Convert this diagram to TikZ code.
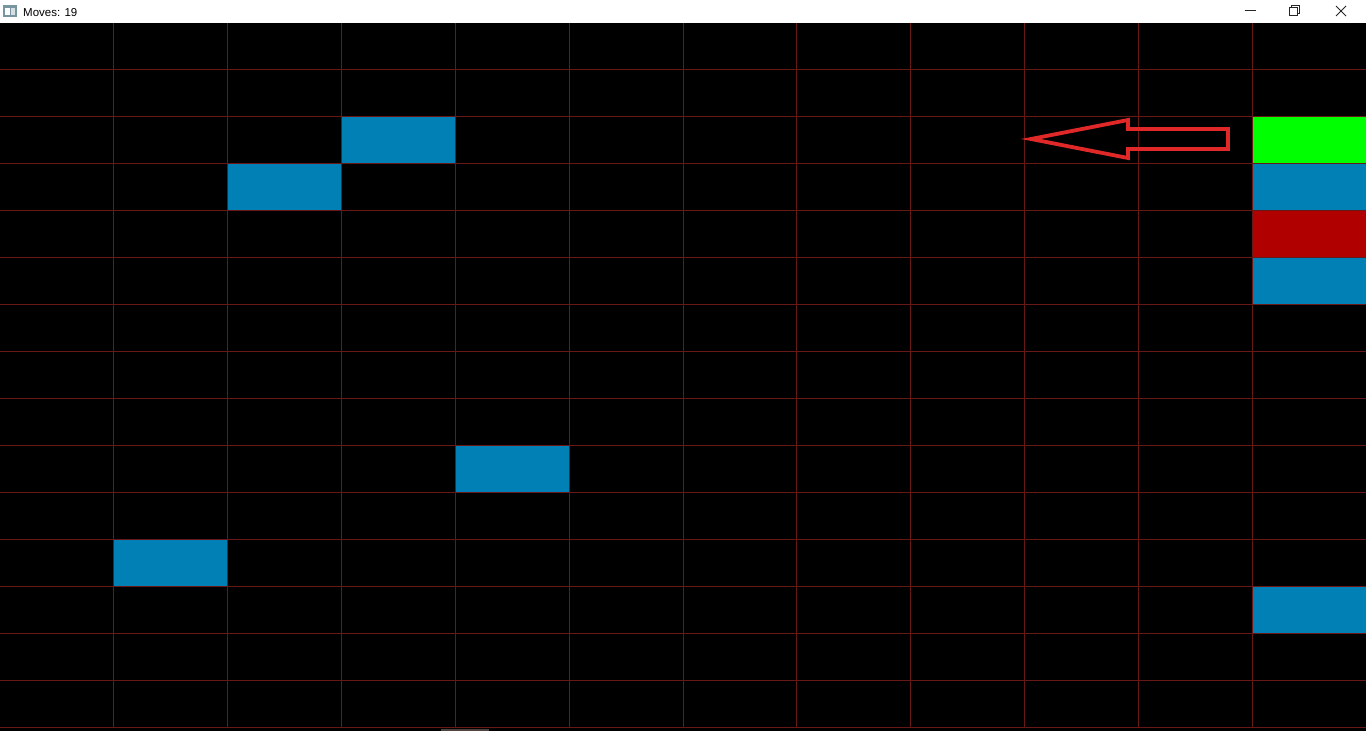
\documentclass[tikz,border=0pt]{standalone}
\usepackage{fontspec}
\setmainfont{Liberation Sans}
\definecolor{gridred}{RGB}{105,24,24}
\definecolor{cellblue}{RGB}{0,128,180}
\definecolor{cellgreen}{RGB}{0,255,0}
\definecolor{cellred}{RGB}{176,0,0}
\definecolor{arrowred}{RGB}{225,40,40}
\definecolor{iconblue}{RGB}{120,150,160}
\definecolor{barbrown}{RGB}{80,66,62}
\begin{document}
\begin{tikzpicture}[x=1pt,y=-1pt,
  gridline/.style={draw=gridred,line width=0.8pt},
  ctrl/.style={draw=black!85,line width=0.9pt}]
\useasboundingbox (0,0) rectangle (1366,731);
% title bar
\fill[white] (0,0) rectangle (1366,23);
% play field
\fill[black] (0,23) rectangle (1366,731);
% icon
\fill[iconblue] (3,5) rectangle (17,17);
\fill[white] (5,8) rectangle (10,15);
\fill[white!70!iconblue] (11,8) rectangle (15,15);
\node[anchor=base west,inner sep=0pt,font=\fontsize{11.5}{13}\selectfont] (title) at (23,16) {Moves: 19};
% window controls
\draw[ctrl] (1244.5,10.5) -- (1255.5,10.5);
\draw[ctrl] (1289.5,7.5) rectangle (1297.5,15.5);
\draw[ctrl] (1291.5,7.5) -- (1291.5,5.5) -- (1299.5,5.5) -- (1299.5,13.5) -- (1297.5,13.5);
\draw[ctrl] (1336,6) -- (1346,16) (1346,6) -- (1336,16);
% cells
\def\cw{113.83}
\def\rh{47}
\def\yo{22.5}
\newcommand\cellat[3]{\fill[#3] ({#1*\cw},{\yo+#2*\rh}) rectangle ({(#1+1)*\cw},{\yo+(#2+1)*\rh});}
\cellat{3}{2}{cellblue}
\cellat{2}{3}{cellblue}
\cellat{11}{2}{cellgreen}
\cellat{11}{3}{cellblue}
\cellat{11}{4}{cellred}
\cellat{11}{5}{cellblue}
\cellat{4}{9}{cellblue}
\cellat{1}{11}{cellblue}
\cellat{11}{12}{cellblue}
% grid
\foreach \i in {1,...,11} \draw[gridline] ({\i*\cw},23) -- ({\i*\cw},728);
\foreach \j in {1,...,15} \draw[gridline] (0,{\yo+\j*\rh}) -- (1366,{\yo+\j*\rh});
% bottom strip
\fill[black] (0,728.5) rectangle (1366,731);
\fill[barbrown] (441,728.5) rectangle (489,731);
% arrow
\draw[arrowred,line width=3.8pt,line join=miter]
  (1031,139) -- (1128,120) -- (1128,129) -- (1228,129) -- (1228,149) -- (1128,149) -- (1128,158) -- cycle;
\end{tikzpicture}
\end{document}
